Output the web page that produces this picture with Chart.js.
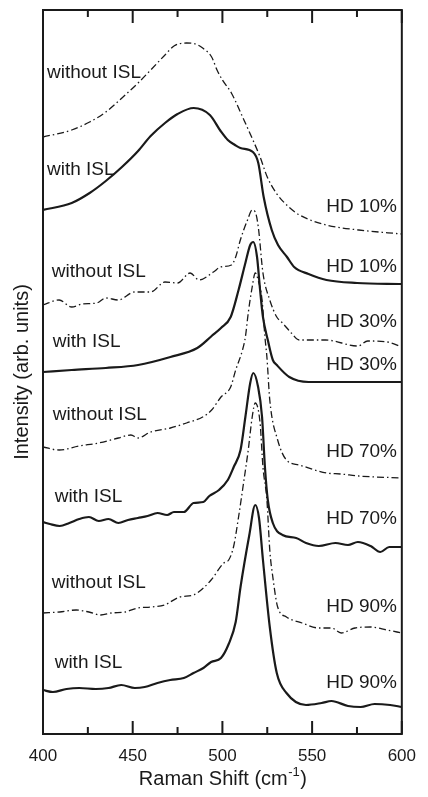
<!DOCTYPE html>
<html>
<head>
<meta charset="utf-8">
<script src="https://cdn.jsdelivr.net/npm/chart.js@4.4.1/dist/chart.umd.min.js"></script>
<style>
  html, body { margin: 0; padding: 0; background: #fff; }
</style>
</head>
<body>
<canvas id="raman" width="428" height="797"></canvas>
<script>
// Raman shift (cm-1) / stacked intensity (arb. units)
const hd10WithoutX = [400, 416, 426, 435, 444, 453, 460, 468, 473, 480, 485, 489, 494, 497, 500, 505, 512, 517, 521, 525, 530, 537, 543, 558, 576, 600];
const hd10WithoutY = [597, 604, 612, 622, 636, 651, 664, 679, 688, 691, 690, 686, 677, 664, 654, 641, 614, 594, 577, 557, 541, 527, 519, 509, 504, 500];

const hd10WithX = [400, 416, 426, 435, 444, 453, 460, 468, 475, 484, 493, 499, 503, 507, 510, 517, 520, 523, 527.5, 531, 536, 540, 548, 558, 575, 600];
const hd10WithY = [524, 531, 541, 553, 567, 583, 598, 611, 620, 626, 619, 603, 594, 589, 586, 582, 571, 537, 504, 489, 477, 467, 460, 454, 451, 450];

const hd30WithoutX = [400, 409, 416, 422, 430, 435, 442, 451, 460, 468, 475, 482, 487, 495, 499, 505, 507.4, 510, 514, 516.6, 518.3, 520, 522.6, 526.4, 530.3, 533.5, 538.4, 542.8, 557.5, 575.5, 581, 592, 600];
const hd30WithoutY = [429, 434, 427, 430, 431, 436, 434, 442, 442, 452, 451, 461, 454, 462, 467, 469, 477, 494, 514, 524, 522, 507, 461, 434, 417, 411, 401, 394, 394, 388, 393, 392, 387];

const hd30WithX = [400, 416, 435, 453, 471, 486, 494, 499.2, 504.6, 509, 512.8, 515.5, 517.2, 519.3, 521, 522.6, 525.3, 528.1, 530.3, 537.3, 548, 566, 600];
const hd30WithY = [362, 364, 366, 369, 377, 386, 398, 406, 417, 444, 471, 489, 492, 477, 444, 417, 394, 374, 369, 357, 352, 352, 352];

const hd70WithoutX = [400, 409, 420, 431, 442, 449, 453, 460, 471, 480, 489, 494, 499.2, 504.6, 507.4, 511.2, 512.8, 514.4, 516.6, 518.3, 519.9, 522.1, 523.7, 524.8, 526.4, 530.8, 535.7, 542.8, 558, 566, 576, 600];
const hd70WithoutY = [287, 284, 288, 291, 296, 299, 296, 302, 306, 311, 317, 324, 337, 347, 364, 384, 397, 421, 447, 461, 454, 434, 397, 377, 334, 294, 274, 269, 261, 260, 258, 256];

const hd70WithX = [400, 403.8, 409.3, 414.7, 420.2, 425.6, 431.1, 436.5, 442, 447.4, 452.9, 458.3, 463.8, 469.2, 473, 478.5, 483.9, 489.4, 492.7, 498.1, 503, 506.3, 510.1, 512.8, 515.5, 517.2, 519.9, 522.1, 523.7, 525.3, 528.1, 533.5, 541.1, 546.6, 553.7, 563, 570, 575.5, 582.6, 588, 593, 600];
const hd70WithY = [212, 210, 208, 211, 215, 217, 213, 215, 211, 214, 216, 218, 221, 219, 222, 222, 231, 232, 238, 244, 254, 267, 284, 317, 351, 361, 347, 317, 267, 234, 211, 199, 196, 191, 188, 191, 189, 192, 188, 182, 187, 187];

const hd90WithoutX = [400, 409.3, 418.5, 425.6, 432.2, 438.2, 445.8, 452.9, 460, 467.6, 476.3, 483.9, 489.4, 493.7, 500.8, 503.5, 506.3, 509, 511.7, 514.4, 516.6, 518.3, 521, 522.6, 524.8, 526.4, 528.1, 530.8, 535.7, 544.4, 553.7, 560.8, 566.2, 573.9, 582.6, 591.8, 600];
const hd90WithoutY = [121, 122, 124, 122, 119, 121, 122, 126, 127, 129, 137, 139, 146, 154, 171, 174, 188, 217, 250, 284, 317, 331, 311, 267, 234, 184, 157, 127, 117, 111, 106, 106, 101, 106, 107, 104, 101];

const hd90WithX = [400, 405.5, 413.1, 420.2, 429.4, 436.5, 443.6, 451.2, 456.7, 463.8, 470.9, 478.5, 483.9, 489.4, 493.7, 499.2, 503.5, 507.4, 510.1, 515, 518.3, 520.4, 522.6, 526.4, 530.3, 535.7, 546.6, 555.3, 560.8, 570, 577.1, 584.8, 593.5, 600];
const hd90WithY = [44, 42, 45, 46, 45, 46, 49, 46, 47, 51, 54, 56, 61, 66, 72, 76, 90, 112, 147, 199, 229, 216, 174, 107, 61, 41, 29, 31, 33, 28, 27, 30, 29, 27];

// in-plot annotations (data coordinates)
const leftLabels = ['without ISL', 'with ISL', 'without ISL', 'with ISL', 'without ISL', 'with ISL', 'without ISL', 'with ISL'];
const leftLabelX = [402.2, 402.2, 404.9, 405.5, 405.5, 406.5, 404.9, 406.5];
const leftLabelY = [661, 564, 462, 392, 319, 237, 151, 71];
const rightLabels = ['HD 10%', 'HD 10%', 'HD 30%', 'HD 30%', 'HD 70%', 'HD 70%', 'HD 90%', 'HD 90%'];
const rightLabelX = 597.3;
const rightLabelY = [527, 467, 412, 369, 282, 215, 127, 51];

const xMajorTicks = [400, 450, 500, 550, 600];
const xMinorTicks = [425, 475, 525, 575];

const FONT = "'Liberation Sans', Arial, Helvetica, sans-serif";
const INK = '#1a1a1a';

const traces = [
  { x: hd10WithoutX, y: hd10WithoutY, isl: false },
  { x: hd10WithX, y: hd10WithY, isl: true },
  { x: hd30WithoutX, y: hd30WithoutY, isl: false },
  { x: hd30WithX, y: hd30WithY, isl: true },
  { x: hd70WithoutX, y: hd70WithoutY, isl: false },
  { x: hd70WithX, y: hd70WithY, isl: true },
  { x: hd90WithoutX, y: hd90WithoutY, isl: false },
  { x: hd90WithX, y: hd90WithY, isl: true }
];

// box round the plot + inward ticks on top and bottom
const frameTicks = {
  id: 'frameTicks',
  afterDatasetsDraw(chart) {
    const { ctx, chartArea: a, scales } = chart;
    const xs = scales.x;
    ctx.save();
    ctx.strokeStyle = INK;
    ctx.lineWidth = 2;
    ctx.strokeRect(a.left, a.top, a.right - a.left, a.bottom - a.top);
    const tick = (v, len) => {
      const px = xs.getPixelForValue(v);
      ctx.beginPath();
      ctx.moveTo(px, a.top); ctx.lineTo(px, a.top + len);
      ctx.moveTo(px, a.bottom); ctx.lineTo(px, a.bottom - len);
      ctx.stroke();
    };
    xMajorTicks.forEach(v => tick(v, 13));
    xMinorTicks.forEach(v => tick(v, 7));
    ctx.restore();
  }
};

const curveLabels = {
  id: 'curveLabels',
  afterDatasetsDraw(chart) {
    const { ctx, scales: { x, y } } = chart;
    ctx.save();
    ctx.fillStyle = INK;
    ctx.font = '19px ' + FONT;
    ctx.textBaseline = 'middle';
    ctx.textAlign = 'left';
    leftLabels.forEach((t, i) => {
      ctx.fillText(t, x.getPixelForValue(leftLabelX[i]), y.getPixelForValue(leftLabelY[i]));
    });
    ctx.textAlign = 'right';
    rightLabels.forEach((t, i) => {
      ctx.fillText(t, x.getPixelForValue(rightLabelX), y.getPixelForValue(rightLabelY[i]));
    });
    ctx.restore();
  }
};

// x title with a real superscript "-1"
const xTitle = {
  id: 'xTitle',
  afterDraw(chart) {
    const { ctx, chartArea: a } = chart;
    const main = 'Raman Shift (cm', sup = '-1', close = ')';
    ctx.save();
    ctx.fillStyle = INK;
    ctx.textBaseline = 'alphabetic';
    ctx.textAlign = 'left';
    ctx.font = '20px ' + FONT;
    const w1 = ctx.measureText(main).width, w3 = ctx.measureText(close).width;
    ctx.font = '13px ' + FONT;
    const w2 = ctx.measureText(sup).width;
    let x0 = (a.left + a.right) / 2 - (w1 + w2 + w3) / 2;
    const base = a.bottom + 51;
    ctx.font = '20px ' + FONT;
    ctx.fillText(main, x0, base);
    ctx.font = '13px ' + FONT;
    ctx.fillText(sup, x0 + w1 + 0.5, base - 9);
    ctx.font = '20px ' + FONT;
    ctx.fillText(close, x0 + w1 + w2 + 1, base);
    ctx.restore();
  }
};

new Chart(document.getElementById('raman'), {
  type: 'line',
  data: {
    datasets: traces.map(t => ({
      data: t.x.map((v, i) => ({ x: v, y: t.y[i] })),
      borderColor: INK,
      borderWidth: t.isl ? 2.2 : 1.3,
      borderDash: t.isl ? [] : [7, 3, 1.5, 3],
      pointRadius: 0,
      cubicInterpolationMode: 'monotone',
      fill: false
    }))
  },
  options: {
    responsive: false,
    animation: false,
    layout: { padding: { top: 10, right: 18, left: 0, bottom: 0 } },
    plugins: { legend: { display: false }, tooltip: { enabled: false } },
    scales: {
      x: {
        type: 'linear',
        min: 400,
        max: 600,
        afterBuildTicks: s => { s.ticks = xMajorTicks.map(v => ({ value: v })); },
        ticks: { padding: 12, color: INK, font: { family: FONT, size: 17 }, maxRotation: 0, autoSkip: false },
        grid: { display: false, drawTicks: false },
        border: { display: false },
        title: { display: false },
        afterFit: s => { s.height = 63; }
      },
      y: {
        min: 0,
        max: 724,
        ticks: { display: false },
        grid: { display: false, drawTicks: false },
        border: { display: false },
        title: { display: true, text: 'Intensity (arb. units)', color: INK, font: { family: FONT, size: 20 }, padding: { top: 10, bottom: 9 } },
        afterFit: s => { s.width = 43; }
      }
    }
  },
  plugins: [frameTicks, curveLabels, xTitle]
});
</script>
</body>
</html>
